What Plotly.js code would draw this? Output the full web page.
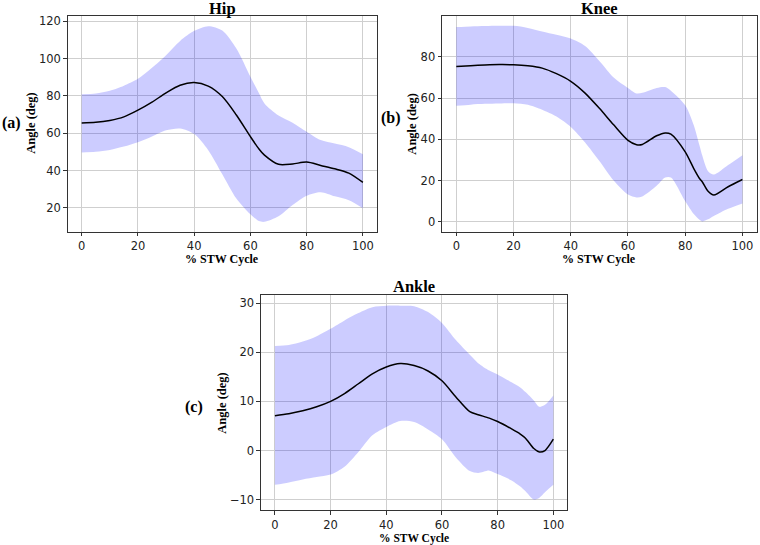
<!DOCTYPE html>
<html>
<head>
<meta charset="utf-8">
<script src="https://cdn.plot.ly/plotly-3.0.1.min.js"></script>
<style>
  html, body { margin: 0; padding: 0; background: #fff; }
  #chart { width: 760px; height: 545px; }
</style>
</head>
<body>
<div id="chart"></div>
<script>
// % STW cycle sample points and angles (deg)
const hipX = [0, 5, 10, 15, 20, 25, 30, 35, 40, 45, 50, 55, 60, 63, 65, 70, 75, 80, 85, 90, 95, 100];
const hipMean = [65.5, 65.8, 66.8, 68.7, 72.3, 76.6, 81.6, 85.7, 87.1, 85.2, 79.6, 69.7, 58.1, 51.6, 48.2, 43.3, 43.5, 44.5, 42.7, 40.9, 38.6, 33.6];
const hipUpper = [80.9, 81.3, 82.7, 85.4, 89.1, 95.0, 101.8, 109.4, 114.8, 117.3, 115.0, 105.3, 90.2, 81.5, 75.9, 69.4, 65.6, 60.8, 56.3, 54.4, 52.5, 48.7];
const hipLower = [49.7, 50.1, 51.0, 52.8, 55.1, 58.2, 61.5, 62.5, 59.5, 50.9, 38.0, 25.0, 16.5, 12.9, 12.5, 15.5, 21.5, 26.5, 28.4, 26.2, 24.1, 19.8];

const kneeX = [0, 5, 10, 15, 20, 25, 30, 35, 40, 45, 50, 55, 60, 63, 65, 70, 73, 75, 80, 83, 85, 86, 88, 90, 95, 100];
const kneeMean = [75.3, 75.7, 76.0, 76.2, 76.1, 75.6, 74.5, 71.8, 68.1, 62.4, 55.0, 47.0, 39.5, 37.4, 37.5, 41.7, 43.1, 42.5, 33.9, 25.8, 21.0, 19.3, 14.8, 13.0, 17.0, 20.5];
const kneeUpper = [94.4, 94.7, 94.9, 95.0, 95.0, 94.0, 92.3, 90.7, 88.8, 85.2, 78.0, 70.0, 64.9, 62.2, 62.5, 64.9, 65.3, 63.5, 56.5, 46.8, 37.0, 32.0, 24.5, 22.9, 27.5, 32.3];
const kneeLower = [56.2, 56.8, 57.2, 57.4, 57.5, 56.7, 54.3, 51.0, 46.0, 38.5, 29.5, 20.0, 13.2, 11.8, 12.3, 17.5, 21.5, 21.5, 10.0, 3.8, 1.0, 0.2, 1.2, 2.8, 6.3, 8.9];

const ankleX = [0, 5, 10, 15, 20, 25, 30, 35, 40, 45, 50, 55, 60, 65, 70, 73, 77, 80, 85, 88, 90, 93, 95, 97, 100];
const ankleMean = [7.1, 7.5, 8.1, 8.9, 10.0, 11.6, 13.6, 15.6, 17.0, 17.7, 17.3, 16.2, 14.2, 10.9, 7.9, 7.3, 6.6, 5.9, 4.4, 3.4, 2.5, 0.4, -0.3, 0.0, 2.3];
const ankleUpper = [21.3, 21.5, 22.2, 23.3, 24.8, 26.5, 28.0, 29.2, 29.5, 29.5, 29.4, 28.2, 26.0, 22.5, 19.5, 17.8, 16.3, 15.5, 13.9, 12.9, 11.9, 10.2, 8.9, 9.3, 11.2];
const ankleLower = [-7.0, -6.5, -5.9, -5.4, -4.9, -3.3, -0.3, 3.1, 4.8, 6.0, 5.8, 4.3, 2.3, -1.4, -4.2, -4.6, -4.1, -4.8, -6.1, -7.3, -8.3, -10.0, -9.6, -8.5, -7.0];

const joints = [
  { name: "Hip", tag: "(a)", x: hipX, mean: hipMean, upper: hipUpper, lower: hipLower, xa: "x", ya: "y" },
  { name: "Knee", tag: "(b)", x: kneeX, mean: kneeMean, upper: kneeUpper, lower: kneeLower, xa: "x2", ya: "y2" },
  { name: "Ankle", tag: "(c)", x: ankleX, mean: ankleMean, upper: ankleUpper, lower: ankleLower, xa: "x3", ya: "y3" },
];

const bandColor = "rgba(0,0,255,0.2)";
const serif = "Liberation Serif, Times New Roman, serif";
const sans = "DejaVu Sans, sans-serif";

var data = [];
joints.forEach(function (j) {
  data.push({
    x: j.x, y: j.upper, xaxis: j.xa, yaxis: j.ya,
    mode: "lines", line: { width: 0, shape: "spline", smoothing: 0.8 },
    hoverinfo: "skip", showlegend: false,
  });
  data.push({
    x: j.x, y: j.lower, xaxis: j.xa, yaxis: j.ya,
    mode: "lines", line: { width: 0, shape: "spline", smoothing: 0.8 },
    fill: "tonexty", fillcolor: bandColor,
    hoverinfo: "skip", showlegend: false,
  });
  data.push({
    x: j.x, y: j.mean, xaxis: j.xa, yaxis: j.ya,
    mode: "lines", line: { color: "#000", width: 1.5, shape: "spline", smoothing: 0.8 },
    name: j.name, showlegend: false,
  });
});

function xAxis(domain, anchor) {
  return {
    domain: domain, anchor: anchor, range: [-5, 105],
    tickvals: [0, 20, 40, 60, 80, 100],
    showline: true, mirror: true, linecolor: "#333", linewidth: 1,
    ticks: "outside", ticklen: 3.5, tickcolor: "#333",
    showgrid: true, gridcolor: "#cfcfcf", gridwidth: 1, zeroline: false,
    tickfont: { family: sans, size: 11.5, color: "#222" },
  };
}
function yAxis(domain, anchor, range, dtick) {
  return {
    domain: domain, anchor: anchor, range: range, dtick: dtick,
    showline: true, mirror: true, linecolor: "#333", linewidth: 1,
    ticks: "outside", ticklen: 3.5, tickcolor: "#333",
    showgrid: true, gridcolor: "#cfcfcf", gridwidth: 1, zeroline: false,
    tickfont: { family: sans, size: 11.5, color: "#222" },
  };
}

function txt(text, x, y, size, angle) {
  return {
    text: "<b>" + text + "</b>", xref: "paper", yref: "paper", x: x, y: y,
    xanchor: "center", yanchor: "middle", showarrow: false,
    textangle: angle || 0, font: { family: serif, size: size, color: "#000" },
  };
}

var layout = {
  width: 760, height: 545, autosize: false,
  margin: { l: 0, r: 0, t: 0, b: 0 },
  paper_bgcolor: "#fff", plot_bgcolor: "#fff",
  xaxis: xAxis([0.089, 0.496], "y"),
  yaxis: yAxis([0.575, 0.9706], "x", [7.25, 122.75], 20),
  xaxis2: xAxis([0.5816, 0.9957], "y2"),
  yaxis2: yAxis([0.575, 0.9706], "x2", [-4.75, 99.75], 20),
  xaxis3: xAxis([0.3434, 0.7464], "y3"),
  yaxis3: yAxis([0.0635, 0.4589], "x3", [-12.2, 31.7], 10),
  annotations: [
    txt("Hip", 0.2926, 0.985, 16.5),
    txt("Knee", 0.7886, 0.985, 16.5),
    txt("Ankle", 0.5448, 0.4745, 16.5),
    txt("% STW Cycle", 0.2926, 0.5245, 12),
    txt("% STW Cycle", 0.7886, 0.5245, 12),
    txt("% STW Cycle", 0.5448, 0.0128, 11.5),
    txt("Angle (deg)", 0.0408, 0.773, 12.5, -90),
    txt("Angle (deg)", 0.542, 0.773, 12.5, -90),
    txt("Angle (deg)", 0.292, 0.261, 12.5, -90),
    txt("(a)", 0.0145, 0.775, 16),
    txt("(b)", 0.514, 0.7835, 16),
    txt("(c)", 0.255, 0.253, 16),
  ],
};

Plotly.newPlot("chart", data, layout, { displayModeBar: false, staticPlot: true });
</script>
</body>
</html>
